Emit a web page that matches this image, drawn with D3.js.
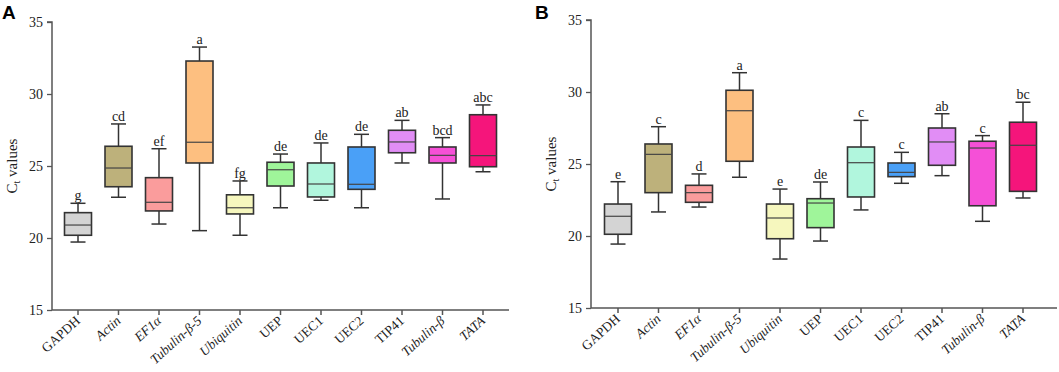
<!DOCTYPE html>
<html><head><meta charset="utf-8">
<script src="https://cdn.jsdelivr.net/npm/d3@7"></script>
<style>
body{margin:0;background:#fff;}
svg{display:block;}
</style></head>
<body>
<svg id="chart" width="1059" height="372"></svg>
<script>
const categories = ["GAPDH","Actin","EF1α","Tubulin-β-5","Ubiquitin","UEP","UEC1","UEC2","TIP41","Tubulin-β","TATA"];
const italicCats = ["Actin","EF1α","Tubulin-β-5","Ubiquitin","Tubulin-β","TATA"];
const colors = ["#d4d4d4","#bdb17b","#fa9c9c","#fdbf80","#f6f7be","#9ff59a","#b1f6dd","#4aa0f7","#e18df5","#f550d7","#f5157b"];
const yTicks = [15,20,25,30,35];

// Panel A
const aMin    = [19.72,22.83,20.97,20.51,20.19,22.10,22.62,22.10,25.21,22.71,24.60];
const aQ1     = [20.19,23.56,21.88,25.21,21.67,23.61,22.85,23.38,25.92,25.21,24.95];
const aMedian = [20.90,24.86,22.48,26.65,22.10,24.74,23.75,23.73,26.67,25.74,25.72];
const aQ3     = [21.76,26.37,24.19,32.29,23.00,25.26,25.21,26.32,27.48,26.32,28.56];
const aMax    = [22.41,27.92,26.20,33.26,23.96,25.83,26.60,27.20,28.17,26.97,29.24];
const aLetters = ["g","cd","ef","a","fg","de","de","de","ab","bcd","abc"];

// Panel B
const bMin    = [19.44,21.67,22.01,24.08,18.40,19.65,21.81,23.66,24.19,21.02,22.64];
const bQ1     = [20.12,23.01,22.34,25.19,19.81,20.58,22.71,24.12,24.91,22.10,23.10];
const bMedian = [21.37,25.67,23.01,28.70,21.25,22.29,25.09,24.42,26.53,26.11,26.30];
const bQ3     = [22.22,26.39,23.52,30.12,22.22,22.59,26.18,25.07,27.50,26.58,27.90];
const bMax    = [23.77,27.59,24.31,31.34,23.26,23.75,28.03,25.81,28.49,26.97,29.29];
const bLetters = ["e","c","d","a","e","de","c","c","ab","c","bc"];

const svg = d3.select("#chart");
const serif = "'Liberation Serif','Times New Roman',serif";
const axisColor = "#555";

function panel(cfg){
  const g = svg.append("g");
  const y = d3.scaleLinear().domain([15,35]).range([cfg.yBottom, cfg.yTop]);
  const x = d3.scaleBand().domain(categories).range(cfg.xRange).padding(0);
  const bw = 27, cap = 15;
  const data = categories.map((c,i)=>({c, i, min:cfg.min[i], q1:cfg.q1[i], med:cfg.med[i], q3:cfg.q3[i], max:cfg.max[i], letter:cfg.letters[i]}));

  // Y axis
  const yAxis = d3.axisLeft(y).tickValues(yTicks).tickSize(5).tickPadding(4).tickFormat(d3.format("d"));
  const ya = g.append("g").attr("transform",`translate(${cfg.axisX},0)`).call(yAxis);
  ya.select(".domain").attr("stroke",axisColor).attr("stroke-width",1.5).attr("d",`M-5,${cfg.yTop}H0V${cfg.yBottom}`);
  ya.selectAll(".tick line").attr("stroke",axisColor).attr("stroke-width",1.3);
  ya.selectAll(".tick text").attr("font-family",serif).attr("font-size",14).attr("fill","#222");

  // X axis
  const xAxis = d3.axisBottom(x).tickSize(5).tickFormat("");
  const xa = g.append("g").attr("transform",`translate(0,${cfg.yBottom})`).call(xAxis);
  xa.select(".domain").attr("stroke",axisColor).attr("stroke-width",1.5).attr("d",`M${cfg.axisX},0H${cfg.xEnd}`);
  xa.selectAll(".tick line").attr("stroke",axisColor).attr("stroke-width",1.5);
  xa.selectAll(".tick").append("text")
    .attr("transform","translate(3,12) rotate(-42)")
    .attr("text-anchor","end")
    .attr("font-family",serif).attr("font-size",13.5).attr("fill","#222")
    .attr("font-style",d=>italicCats.includes(d)?"italic":"normal")
    .text(d=>d);

  const cx = d => x(d.c) + x.bandwidth()/2;
  const boxes = g.append("g").selectAll("g").data(data).join("g");
  // whiskers
  boxes.append("line").attr("x1",cx).attr("x2",cx).attr("y1",d=>y(d.max)).attr("y2",d=>y(d.q3)).attr("stroke","#333").attr("stroke-width",1.5);
  boxes.append("line").attr("x1",cx).attr("x2",cx).attr("y1",d=>y(d.q1)).attr("y2",d=>y(d.min)).attr("stroke","#333").attr("stroke-width",1.5);
  boxes.append("line").attr("x1",d=>cx(d)-cap/2).attr("x2",d=>cx(d)+cap/2).attr("y1",d=>y(d.max)).attr("y2",d=>y(d.max)).attr("stroke","#333").attr("stroke-width",1.5);
  boxes.append("line").attr("x1",d=>cx(d)-cap/2).attr("x2",d=>cx(d)+cap/2).attr("y1",d=>y(d.min)).attr("y2",d=>y(d.min)).attr("stroke","#333").attr("stroke-width",1.5);
  // box
  boxes.append("rect").attr("x",d=>cx(d)-bw/2).attr("width",bw)
    .attr("y",d=>y(d.q3)).attr("height",d=>y(d.q1)-y(d.q3))
    .attr("fill",d=>colors[d.i]).attr("stroke","#333").attr("stroke-width",1.6);
  boxes.append("line").attr("x1",d=>cx(d)-bw/2).attr("x2",d=>cx(d)+bw/2).attr("y1",d=>y(d.med)).attr("y2",d=>y(d.med)).attr("stroke","#444").attr("stroke-width",1.2);
  // letters
  boxes.append("text").attr("x",cx).attr("y",d=>y(d.max)-3).attr("text-anchor","middle")
    .attr("font-family",serif).attr("font-size",14).attr("fill","#222").text(d=>d.letter);

  // Y title
  const t = g.append("text").attr("transform",`translate(${cfg.titleX},${(cfg.yTop+cfg.yBottom)/2}) rotate(-90)`)
    .attr("text-anchor","middle").attr("font-family",serif).attr("font-size",15).attr("fill","#222");
  t.append("tspan").text("C");
  t.append("tspan").attr("font-size",10).attr("dy",3).text("t");
  t.append("tspan").attr("dy",-3).text(" values");

  // panel letter
  g.append("text").attr("x",cfg.letterX).attr("y",19).attr("font-family","'Liberation Sans',Arial,sans-serif")
    .attr("font-weight","bold").attr("font-size",19).attr("fill","#000").text(cfg.letter);
}

panel({letter:"A", letterX:2, axisX:52, xEnd:509, yTop:22, yBottom:310, xRange:[57.75,503.25], titleX:17,
  min:aMin,q1:aQ1,med:aMedian,q3:aQ3,max:aMax,letters:aLetters});
panel({letter:"B", letterX:535, axisX:591, xEnd:1057, yTop:20, yBottom:308, xRange:[597.75,1043.25], titleX:556,
  min:bMin,q1:bQ1,med:bMedian,q3:bQ3,max:bMax,letters:bLetters});
</script>
</body></html>
